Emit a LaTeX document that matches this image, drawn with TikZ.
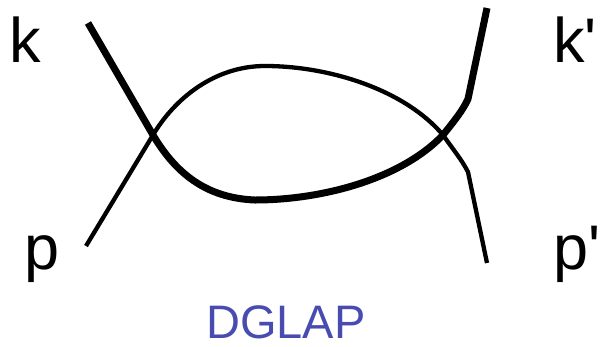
\documentclass[tikz,border=0pt]{standalone}
\usepackage{fontspec}
\setmainfont{Liberation Sans}
\definecolor{dglapblue}{RGB}{72,76,176}
\begin{document}
\begin{tikzpicture}[x=1pt,y=-1pt,
  thickline/.style={line width=7pt,line join=round},
  thinline/.style={line width=4.3pt,line join=round},
  lbl/.style={anchor=base west,inner sep=0pt,font=\fontsize{63}{63}\selectfont},
  title/.style={anchor=base,inner sep=0pt,text=dglapblue,font=\fontsize{47}{47}\selectfont}]
\useasboundingbox (0,0) rectangle (600,346);
% endpoints and vertices
\coordinate (kin) at (88,23);
\coordinate (pin) at (86,246);
\coordinate (kout) at (487,8);
\coordinate (pout) at (487,263);
\coordinate (v1) at (153,135);
\coordinate (v2) at (443,135);
\coordinate (kb) at (255,200);
\coordinate (pt) at (265,66);
\coordinate (kk) at (468,99);
\coordinate (pk) at (468,172);
% thick line k -> k'
\draw[thickline] (kin) -- (v1) .. controls (175,172) and (205,198) .. (kb)
  .. controls (320,200) and (400,180) .. (v2)
  .. controls (455,120) and (463,110) .. (kk) -- (kout);
% thin line p -> p'
\draw[thinline] (pin) -- (v1) .. controls (175,98) and (215,66) .. (pt)
  .. controls (330,66) and (405,90) .. (v2)
  .. controls (452,148) and (462,160) .. (pk) -- (pout);
% labels
\node[lbl] (lk) at (9,62) {k};
\node[lbl] (lkp) at (553,62) {k\textquotesingle};
\node[lbl] (lp) at (24,269) {p};
\node[lbl] (lpp) at (553,269) {p\textquotesingle};
\node[title] (dglap) at (286,338) {DGLAP};
\end{tikzpicture}
\end{document}
